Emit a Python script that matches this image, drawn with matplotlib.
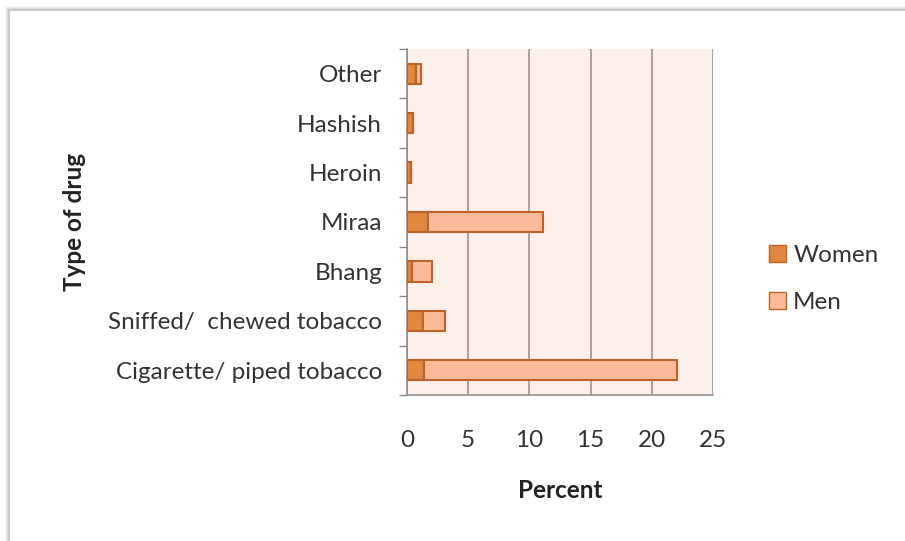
import matplotlib
matplotlib.use("Agg")
import matplotlib.pyplot as plt
from matplotlib.patches import Rectangle, Patch
import numpy as np

categories = ["Cigarette/ piped tobacco", "Sniffed/  chewed tobacco", "Bhang",
              "Miraa", "Heroin", "Hashish", "Other"]
women = [1.35, 1.3, 0.4, 1.75, 0.3, 0.5, 0.7]
men = [20.7, 1.8, 1.65, 9.35, 0.0, 0.0, 0.45]
x_ticks = [0, 5, 10, 15, 20, 25]

plt.rcParams["font.family"] = ["Lato", "DejaVu Sans"]

W, H = 905, 541
fig = plt.figure(figsize=(W / 100, H / 100), dpi=100)
fig.patch.set_facecolor("white")

# framed chart area with a soft shadow on the left/top
for off, col in [(3, "#ececec"), (2, "#dedede"), (1, "#d0d0d0")]:
    fig.patches.append(Rectangle(((9 - off) / W, -0.05), (W + 20) / W, (H - 10 + off) / H + 0.05,
                                 transform=fig.transFigure, facecolor="none",
                                 edgecolor=col, linewidth=1.0, zorder=-10))
fig.patches.append(Rectangle((9 / W, -0.05), (W + 20) / W, (H - 10) / H + 0.05,
                             transform=fig.transFigure, facecolor="white",
                             edgecolor="#c4c4c4", linewidth=1.2, zorder=-9))

left, right, top, bottom = 407, 713, 49, 395
ax = fig.add_axes([left / W, 1 - bottom / H, (right - left) / W, (bottom - top) / H])
ax.set_facecolor("#fcefea")

y = np.arange(len(categories))
h = 0.41
edge = "#bd6229"
ax.barh(y, women, height=h, color="#e0863f", edgecolor=edge, linewidth=1.5, zorder=3,
        label="Women")
ax.barh(y, men, left=women, height=h, color="#fbbb98", edgecolor=edge, linewidth=1.5,
        zorder=3, label="Men")

fs = 17.5
ax.set_xlim(0, 25)
ax.set_ylim(-0.5, len(categories) - 0.5)
ax.set_xticks(x_ticks)
ax.set_xticklabels([str(t) for t in x_ticks], fontsize=fs, color="#333333")
ax.set_yticks(y)
ax.set_yticklabels(categories, fontsize=fs, color="#333333")
ax.tick_params(axis="y", length=0, pad=18)
ax.tick_params(axis="x", length=0, pad=25)
ax.set_yticks(np.arange(-0.5, len(categories), 1), minor=True)
ax.tick_params(axis="y", which="minor", length=6, color="#8a8a8a", width=1)
ax.set_xticks(x_ticks, minor=True)
ax.tick_params(axis="x", which="minor", length=6, color="#8a8a8a", width=1)

ax.grid(axis="x", color="#8c8c8c", linewidth=1.1, zorder=1)
for s in ["top", "right"]:
    ax.spines[s].set_visible(False)
for s in ["left", "bottom"]:
    ax.spines[s].set_color("#8a8a8a")
    ax.spines[s].set_linewidth(1.1)

ax.set_xlabel("Percent", fontsize=fs, fontweight="bold", color="#222222", labelpad=20)
fig.text(74 / W, 1 - 222 / H, "Type of drug", rotation=90, fontsize=fs,
         fontweight="bold", color="#222222", ha="center", va="center")

handles = [Patch(facecolor="#e0863f", edgecolor=edge, label="Women"),
           Patch(facecolor="#fbbb98", edgecolor=edge, label="Men")]
fig.legend(handles=handles, loc="center left", bbox_to_anchor=(747 / W, 1 - 279 / H),
           frameon=False, fontsize=fs, handlelength=0.7, handleheight=0.7,
           handletextpad=0.3, labelspacing=1.1, labelcolor="#333333")

fig.savefig("out.png", dpi=100)
